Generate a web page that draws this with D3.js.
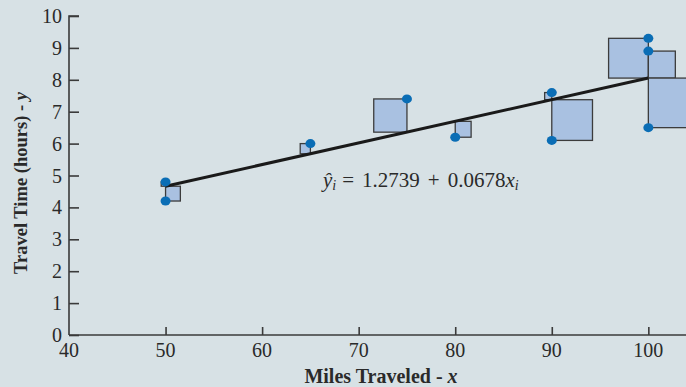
<!DOCTYPE html>
<html>
<head>
<meta charset="utf-8">
<script src="https://cdn.jsdelivr.net/npm/d3@7"></script>
<style>
  html, body { margin: 0; padding: 0; background: #d7e1e5; }
  svg { display: block; }
  text { font-family: "Liberation Serif", "Times New Roman", serif; fill: #2a2a2a; }
</style>
</head>
<body>
<svg id="chart" width="686" height="387"></svg>
<script>
// Butler Trucking: miles traveled vs. travel time
const miles = [100, 50, 100, 100, 50, 80, 75, 65, 90, 90];
const hours = [9.3, 4.8, 8.9, 6.5, 4.2, 6.2, 7.4, 6.0, 7.6, 6.1];
// which side of the point each residual square is drawn on (-1 left, +1 right)
const squareSide = [-1, -1, 1, 1, 1, 1, -1, -1, -1, 1];
const b0 = 1.2739, b1 = 0.0678;
const xTicks = [40, 50, 60, 70, 80, 90, 100];
const yTicks = [0, 1, 2, 3, 4, 5, 6, 7, 8, 9, 10];

const svg = d3.select("#chart");
const x = d3.scaleLinear().domain([40, 103.9]).range([69, 686]);
const y = d3.scaleLinear().domain([0, 10]).range([335, 16]);
const axisColor = "#3a3a3a";

// residual squares
const pxPerY = y(0) - y(1);
svg.append("g").selectAll("rect")
  .data(miles.map((m, i) => ({ m, h: hours[i], s: squareSide[i] })))
  .join("rect")
  .attr("x", d => {
    const side = Math.abs(d.h - (b0 + b1 * d.m)) * pxPerY;
    return d.s < 0 ? x(d.m) - side : x(d.m);
  })
  .attr("y", d => y(Math.max(d.h, b0 + b1 * d.m)))
  .attr("width", d => Math.abs(d.h - (b0 + b1 * d.m)) * pxPerY)
  .attr("height", d => Math.abs(d.h - (b0 + b1 * d.m)) * pxPerY)
  .attr("fill", "#a9c1e1")
  .attr("stroke", "#3c3c3c")
  .attr("stroke-width", 1.3);

// fitted line
const fit = d3.line().x(d => x(d)).y(d => y(b0 + b1 * d));
svg.append("path")
  .attr("d", fit([d3.min(miles), d3.max(miles)]))
  .attr("stroke", "#1a1a1a").attr("stroke-width", 3).attr("fill", "none");

// observations
svg.append("g").selectAll("ellipse")
  .data(miles.map((m, i) => [m, hours[i]]))
  .join("ellipse")
  .attr("cx", d => x(d[0])).attr("cy", d => y(d[1]))
  .attr("rx", 5).attr("ry", 4.5)
  .attr("fill", "#0a6db5");

// y axis
const yAxis = svg.append("g").attr("transform", `translate(${x(40)},0)`)
  .call(d3.axisRight(y).tickValues(yTicks).tickSize(10).tickFormat(""));
yAxis.select(".domain").attr("stroke", axisColor).attr("stroke-width", 1.6)
  .attr("d", `M10,${y(10)}H0V${y(0)}`);
yAxis.selectAll(".tick line").attr("stroke", axisColor).attr("stroke-width", 1.6);
svg.append("g").selectAll("text").data(yTicks).join("text")
  .attr("x", 62).attr("y", d => y(d) + 7)
  .attr("text-anchor", "end").attr("font-size", 20).text(d => d);

// x axis
const xAxis = svg.append("g").attr("transform", `translate(0,${y(0)})`)
  .call(d3.axisTop(x).tickValues(xTicks.slice(1)).tickSize(8).tickFormat(""));
xAxis.select(".domain").attr("stroke", axisColor).attr("stroke-width", 1.6)
  .attr("d", `M${x(40)},0H686`);
xAxis.selectAll(".tick line").attr("stroke", axisColor).attr("stroke-width", 1.6);
svg.append("g").selectAll("text").data(xTicks).join("text")
  .attr("x", d => x(d)).attr("y", 357)
  .attr("text-anchor", "middle").attr("font-size", 20).text(d => d);

// axis titles
const xt = svg.append("text").attr("x", 381).attr("y", 383)
  .attr("text-anchor", "middle").attr("font-size", 20).attr("font-weight", "bold");
xt.append("tspan").text("Miles Traveled - ");
xt.append("tspan").attr("font-style", "italic").text("x");

const yt = svg.append("text").attr("transform", "translate(27,183) rotate(-90)")
  .attr("text-anchor", "middle").attr("font-size", 18.5).attr("font-weight", "bold");
yt.append("tspan").text("Travel Time (hours) - ");
yt.append("tspan").attr("font-style", "italic").text("y");

// regression equation
const eq = svg.append("text").attr("x", 323).attr("y", 187).attr("font-size", 21);
eq.append("tspan").attr("font-style", "italic").text("ŷ");
eq.append("tspan").attr("font-style", "italic").attr("font-size", 14).attr("dy", 3).text("i");
eq.append("tspan").attr("dy", -3).attr("dx", 6).text("=");
eq.append("tspan").attr("dx", 8).text(b0);
eq.append("tspan").attr("dx", 8).text("+");
eq.append("tspan").attr("dx", 8).text(b1);
eq.append("tspan").attr("font-style", "italic").text("x");
eq.append("tspan").attr("font-style", "italic").attr("font-size", 14).attr("dy", 3).text("i");
</script>
</body>
</html>
